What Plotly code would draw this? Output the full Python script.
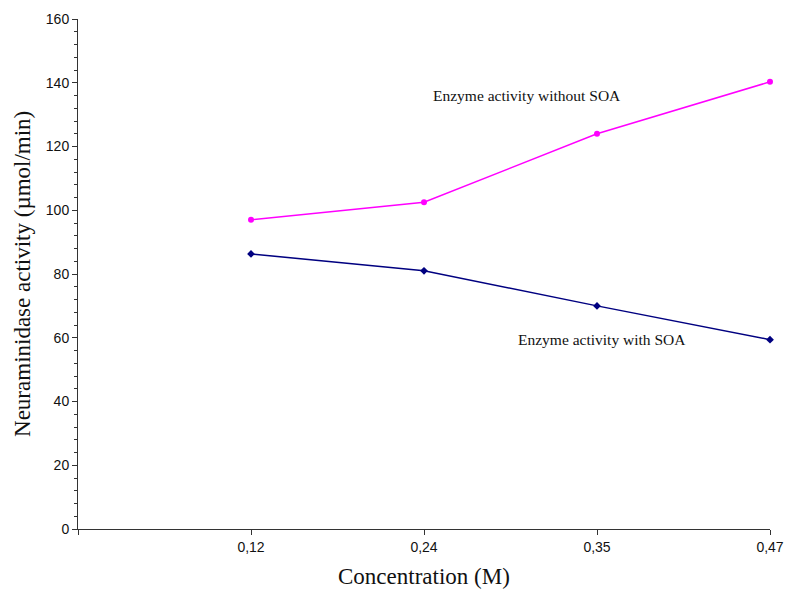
import plotly.graph_objects as go

categories = ["0,12", "0,24", "0,35", "0,47"]
without_soa = [97.0, 102.5, 124.0, 140.3]
with_soa = [86.3, 81.0, 70.0, 59.4]

xpos = list(range(1, len(categories) + 1))

fig = go.Figure()
fig.add_trace(go.Scatter(
    x=xpos, y=without_soa, mode="lines+markers",
    line=dict(color="#FF00FF", width=1.5),
    marker=dict(symbol="circle", size=6, color="#FF00FF"),
    cliponaxis=False, showlegend=False,
))
fig.add_trace(go.Scatter(
    x=xpos, y=with_soa, mode="lines+markers",
    line=dict(color="#000080", width=1.5),
    marker=dict(symbol="diamond", size=6, color="#000080"),
    cliponaxis=False, showlegend=False,
))

fig.add_annotation(x=2.595, y=136.0, text="Enzyme activity without SOA", showarrow=False,
                   font=dict(family="Liberation Serif", size=15.5, color="#111"))
fig.add_annotation(x=3.03, y=59.6, text="Enzyme activity with SOA", showarrow=False,
                   font=dict(family="Liberation Serif", size=15.5, color="#111"))
fig.add_annotation(xref="paper", yref="paper", x=-0.081, y=0.5, xanchor="center", yanchor="middle",
                   text="Neuraminidase activity (µmol/min)", textangle=-90, showarrow=False,
                   font=dict(family="Liberation Serif", size=23, color="#111"))
fig.add_annotation(xref="paper", yref="paper", x=0.5, y=-0.094, xanchor="center", yanchor="middle",
                   text="Concentration (M)", showarrow=False,
                   font=dict(family="Liberation Serif", size=23, color="#111"))

fig.update_layout(
    width=787, height=594,
    margin=dict(l=78, r=17, t=19, b=65, autoexpand=False),
    paper_bgcolor="white", plot_bgcolor="white",
    hovermode=False,
    xaxis=dict(
        range=[0, 4], tickvals=[0] + xpos, ticktext=[""] + categories,
        automargin=False, ticklabeloverflow="allow",
        showgrid=False, zeroline=False, showline=True, linecolor="#333", linewidth=1,
        ticks="outside", ticklen=5, tickcolor="#333",
        tickfont=dict(family="Liberation Sans", size=14, color="#111"),
    ),
    yaxis=dict(
        range=[0, 160], dtick=20, showgrid=False, zeroline=False,
        automargin=False, ticklabeloverflow="allow",
        showline=True, linecolor="#333", linewidth=1,
        ticks="outside", ticklen=5, tickcolor="#333",
        minor=dict(dtick=4, ticks="outside", ticklen=3, tickcolor="#333"),
        tickfont=dict(family="Liberation Sans", size=14, color="#111"),
    ),
)

fig.write_html(
    "out.html",
    config={"displayModeBar": False},
    post_script="document.body.style.margin='0';document.body.style.overflow='hidden';",
)
